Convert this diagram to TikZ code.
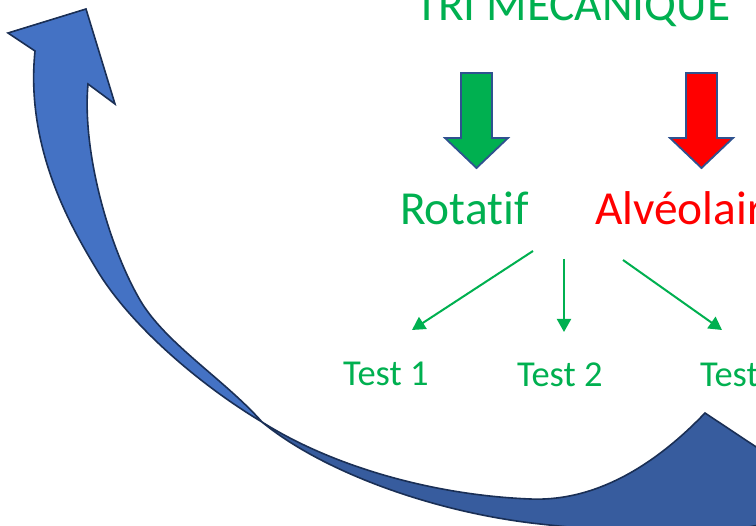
\documentclass[tikz,border=0pt]{standalone}
\usepackage{fontspec}
\setmainfont{Carlito}[Ligatures=NoCommon]
\usetikzlibrary{arrows.meta}
\definecolor{ogreen}{HTML}{00B050}
\definecolor{ored}{HTML}{FF0000}
\definecolor{oline}{HTML}{2F528F}
\definecolor{bigfill}{HTML}{4472C4}
\definecolor{bigdark}{HTML}{375C9E}
\definecolor{bigline}{HTML}{1A2F55}
\tikzset{
  lbl/.style={anchor=base west, inner sep=0pt, outer sep=0pt},
  blockarrow/.style={draw=oline, line width=1.8pt, line join=miter},
  conn/.style={draw=ogreen, line width=2pt, -{Triangle[length=13pt,width=14pt]}},
  bigarrow/.style={draw=bigline, line width=1.6pt, line join=miter}
}
\begin{document}
\begin{tikzpicture}[x=1pt,y=-1pt]
\useasboundingbox (0,0) rectangle (756,526);
\clip (0,0) rectangle (756,526);
\fill[white] (0,0) rectangle (756,526);

% big curved arrow, dark back part
\filldraw[bigarrow, fill=bigdark]
  (262,422) .. controls (330,465) and (430,495) .. (530,499)
  .. controls (600,502) and (660,460) .. (705,413)
  -- (830,496)
  .. controls (760,545) and (640,535) .. (540,524)
  .. controls (430,512) and (320,470) .. (262,422)
  -- cycle;
% big curved arrow, front part with head
\filldraw[bigarrow, fill=bigfill]
  (262,422) .. controls (200,385) and (130,325) .. (97,270)
  .. controls (73,230) and (25,150) .. (35,51)
  -- (8,33) -- (86,9) -- (115,104) -- (88,84)
  .. controls (82,150) and (108,245) .. (140,300)
  .. controls (165,343) and (225,380) .. (262,422)
  -- cycle;

% block arrows
\filldraw[blockarrow, fill=ogreen] (461,73) -- (492,73) -- (492,138) -- (508,138) -- (476.5,168) -- (445,138) -- (461,138) -- cycle;
\filldraw[blockarrow, fill=ored] (686,73) -- (717,73) -- (717,138) -- (733,138) -- (701.5,168) -- (670,138) -- (686,138) -- cycle;

% texts
\node[lbl, text=ogreen, font=\fontsize{47.4}{52}\selectfont] (title) at (415,21) {TRI MÉCANIQUE};
\node[lbl, text=ogreen, font=\fontsize{47.4}{52}\selectfont] (rot) at (400,225) {Rotatif};
\node[lbl, text=ored, font=\fontsize{47.4}{52}\selectfont] (alv) at (595,225) {Alvéolaire};
\node[lbl, text=ogreen, font=\fontsize{36.5}{40}\selectfont] (t1) at (343,386) {Test 1};
\node[lbl, text=ogreen, font=\fontsize{36.5}{40}\selectfont] (t2) at (517,387) {Test 2};
\node[lbl, text=ogreen, font=\fontsize{36.5}{40}\selectfont] (t3) at (700,387) {Test 3};

% connectors
\coordinate (s1) at (533,251);
\coordinate (s2) at (564,259);
\coordinate (s3) at (623,260);
\coordinate (e1) at (412,330);
\coordinate (e2) at (564,332);
\coordinate (e3) at (722,330);
\draw[conn] (s1) -- (e1);
\draw[conn] (s2) -- (e2);
\draw[conn] (s3) -- (e3);
\end{tikzpicture}
\end{document}
